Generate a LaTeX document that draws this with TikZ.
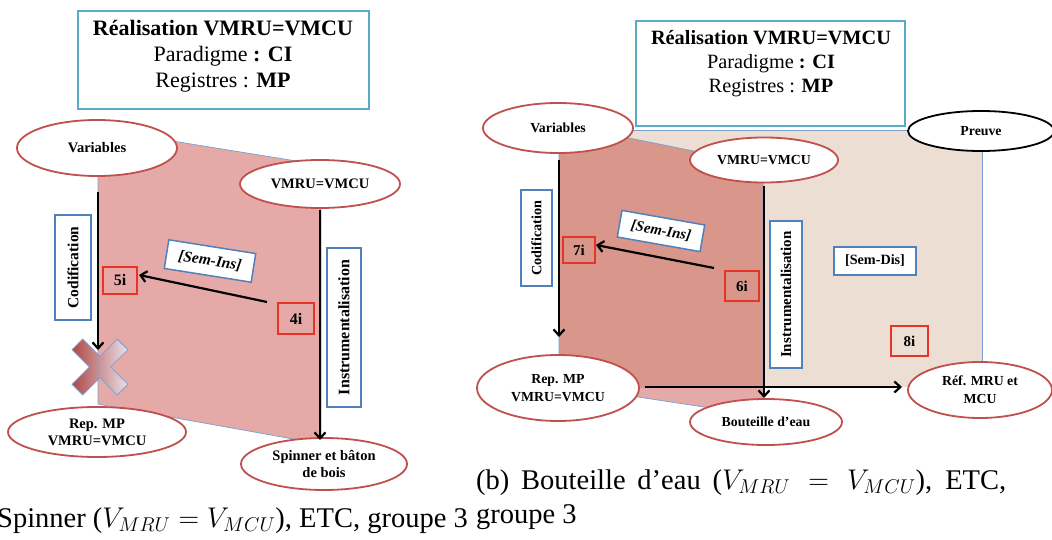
\RequirePackage{fix-cm}
\documentclass[tikz,border=0pt]{standalone}
\usepackage{fontspec}
\setmainfont{Liberation Serif}
\usetikzlibrary{arrows.meta,shapes.geometric}
\definecolor{ered}{RGB}{192,80,77}
\definecolor{bblue}{RGB}{79,129,189}
\definecolor{tealb}{RGB}{90,172,198}
\definecolor{rbox}{RGB}{232,52,40}
\definecolor{pinkA}{RGB}{229,170,168}
\definecolor{pinkD}{RGB}{217,150,138}
\definecolor{beigeC}{RGB}{236,222,211}
\definecolor{edgeB}{RGB}{120,160,210}
\definecolor{xdark}{RGB}{176,72,70}
\definecolor{xlight}{RGB}{232,224,232}
\tikzset{
  ell/.style={ellipse, draw=ered, line width=1.8pt, fill=white, inner sep=0pt, align=center},
  ellL/.style={ell, font=\bfseries\fontsize{14.5}{17}\selectfont},
  ellR/.style={ell, font=\bfseries\fontsize{13.8}{18}\selectfont},
  lbl/.style={rectangle, draw=bblue, line width=1.5pt, fill=white, inner sep=0pt},
  numbox/.style={rectangle, draw=rbox, line width=1.5pt, inner sep=0pt},
  titlebox/.style={rectangle, draw=tealb, line width=2.4pt, fill=white, inner sep=0pt},
  arr/.style={line width=2.2pt, -{Straight Barb[length=6pt,width=11pt]}},
  pedge/.style={draw=edgeB, line width=0.7pt},
  captxt/.style={font=\fontsize{28.5}{30}\selectfont, inner sep=0pt}
}
\begin{document}
\begin{tikzpicture}[x=1pt,y=-1pt]
\useasboundingbox (0,0) rectangle (1052,540);

% ---------------- left panel background ----------------
\fill[pinkA] (98,129) -- (321,165) -- (321,444) -- (98,404) -- cycle;
\begin{scope}[shift={(100,367)}]
\draw[left color=xdark, right color=xlight, draw=edgeB, line width=0.8pt]
 (17.3,27.9) -- (27.9,17.3) -- (10.6,0) -- (27.9,-17.3) -- (17.3,-27.9) -- (0,-10.6)
 -- (-17.3,-27.9) -- (-27.9,-17.3) -- (-10.6,0) -- (-27.9,17.3) -- (-17.3,27.9) -- (0,10.6) -- cycle;
\end{scope}
\draw[pedge] (98,129) -- (321,165) -- (321,444) -- (98,404) -- cycle;

% ---------------- right panel background ----------------
\fill[beigeC] (559,130) rectangle (982,387);
\draw[pedge] (559,130) -- (982,130) -- (982,387);
\fill[pinkA] (559,124) -- (763,165) -- (763,416) -- (559,385) -- cycle;
\begin{scope}
\clip (559,130) rectangle (982,387);
\fill[pinkD] (559,124) -- (763,165) -- (763,416) -- (559,385) -- cycle;
\end{scope}
\draw[pedge] (559,124) -- (763,165) -- (763,416) -- (559,385) -- cycle;

% ---------------- left panel nodes ----------------
\node[titlebox, minimum width=291pt, minimum height=98pt] (Ltitle) at (223.5,60) {};
\node[align=center, inner sep=0pt, font=\fontsize{22}{26}\selectfont] (Ltitletxt) at (223,56)
  {{\bfseries Réalisation VMRU=VMCU}\\
   Paradigme \textbf{: CI}\\
   Registres : \textbf{MP}};
\node[ellL, minimum width=160pt, minimum height=56pt] (Lvar) at (97,148) {Variables};
\node[ellL, minimum width=160pt, minimum height=48pt] (Lvm) at (320,184) {VMRU=VMCU};
\node[ellL, minimum width=178pt, minimum height=50pt] (Lrep) at (97,432) {Rep. MP\\VMRU=VMCU};
\node[ellL, minimum width=166pt, minimum height=52pt] (Lspin) at (324,464) {Spinner et bâton\\de bois};
\node[lbl, rotate=90, minimum width=105pt, minimum height=36pt, font=\bfseries\fontsize{15.5}{16}\selectfont] (Lcod) at (73,267.5) {Codification};
\node[lbl, rotate=90, minimum width=159pt, minimum height=34pt, font=\bfseries\fontsize{16}{16}\selectfont] (Lins) at (344,327.5) {Instrumentalisation};
\node[lbl, rotate=-9, minimum width=88pt, minimum height=29pt, font=\bfseries\itshape\fontsize{15.5}{16}\selectfont] (Lsem) at (210,261) {[Sem-Ins]};
\node[numbox, minimum width=34pt, minimum height=27pt, font=\bfseries\fontsize{16}{16}\selectfont] (L5) at (120,280.5) {5i};
\node[numbox, minimum width=36pt, minimum height=31pt, font=\bfseries\fontsize{16}{16}\selectfont] (L4) at (296,318.5) {4i};

% ---------------- right panel nodes ----------------
\node[titlebox, minimum width=269pt, minimum height=105pt] (Rtitle) at (770.5,73.5) {};
\node[align=center, inner sep=0pt, font=\fontsize{20.3}{24}\selectfont] (Rtitletxt) at (771,64)
  {{\bfseries Réalisation VMRU=VMCU}\\
   Paradigme \textbf{: CI}\\
   Registres : \textbf{MP}};
\node[ellR, minimum width=150pt, minimum height=50pt] (Rvar) at (558,128) {Variables};
\node[ellR, minimum width=148pt, minimum height=45pt] (Rvm) at (764,160) {VMRU=VMCU};
\node[ellR, draw=black, minimum width=146pt, minimum height=40pt] (Rpreuve) at (981,131) {Preuve};
\node[ellR, minimum width=162pt, minimum height=66pt] (Rrep) at (558,388) {Rep. MP\\VMRU=VMCU};
\node[ellR, minimum width=152pt, minimum height=46pt] (Rbout) at (766,422) {Bouteille d’eau};
\node[ellR, minimum width=144pt, minimum height=56pt] (Rref) at (980,390) {Réf. MRU et\\MCU};
\node[lbl, rotate=90, minimum width=96pt, minimum height=31pt, font=\bfseries\fontsize{14.2}{15}\selectfont] (Rcod) at (536.5,238) {Codification};
\node[lbl, rotate=90, minimum width=147pt, minimum height=32pt, font=\bfseries\fontsize{15}{15}\selectfont] (Rins) at (786,294.5) {Instrumentalisation};
\node[lbl, rotate=-10, minimum width=84pt, minimum height=27pt, font=\bfseries\itshape\fontsize{14.8}{15}\selectfont] (Rsem) at (661,231) {[Sem-Ins]};
\node[lbl, minimum width=82pt, minimum height=28pt, font=\bfseries\fontsize{14.2}{15}\selectfont] (Rsemdis) at (875,261) {[Sem-Dis]};
\node[numbox, minimum width=32pt, minimum height=26pt, font=\bfseries\fontsize{15}{15}\selectfont] (R7) at (579,250) {7i};
\node[numbox, minimum width=34pt, minimum height=30pt, font=\bfseries\fontsize{15}{15}\selectfont] (R6) at (742,286) {6i};
\node[numbox, minimum width=37pt, minimum height=30pt, font=\bfseries\fontsize{15}{15}\selectfont] (R8) at (909.5,341) {8i};

% ---------------- connectors ----------------
\coordinate (La1) at (98,192);  \coordinate (La2) at (98,350);
\coordinate (La3) at (267,302); \coordinate (La4) at (139,275);
\coordinate (Lb1) at (320,210); \coordinate (Lb2) at (320,440);
\draw[arr] (La1) -- (La2);
\draw[arr] (La3) -- (La4);
\draw[arr] (Lb1) -- (Lb2);

\coordinate (Ra1) at (559,160); \coordinate (Ra2) at (559,337);
\coordinate (Ra3) at (714,268); \coordinate (Ra4) at (596,245);
\coordinate (Rb1) at (764,186); \coordinate (Rb2) at (764,398);
\coordinate (Rc1) at (645,387); \coordinate (Rc2) at (902,387);
\draw[arr] (Ra1) -- (Ra2);
\draw[arr] (Ra3) -- (Ra4);
\draw[arr] (Rb1) -- (Rb2);
\draw[arr] (Rc1) -- (Rc2);

% ---------------- captions ----------------
\node[captxt, anchor=base east] (capL) at (468,527) {Spinner ($V_{MRU} = V_{MCU}$), ETC, groupe 3};
\node[captxt, anchor=base west] (capR1) at (476,489) {\makebox[530pt][s]{(b) Bouteille d’eau ($V_{MRU} = V_{MCU}$), ETC,}};
\node[captxt, anchor=base west] (capR2) at (476,523) {groupe 3};
\end{tikzpicture}
\end{document}
